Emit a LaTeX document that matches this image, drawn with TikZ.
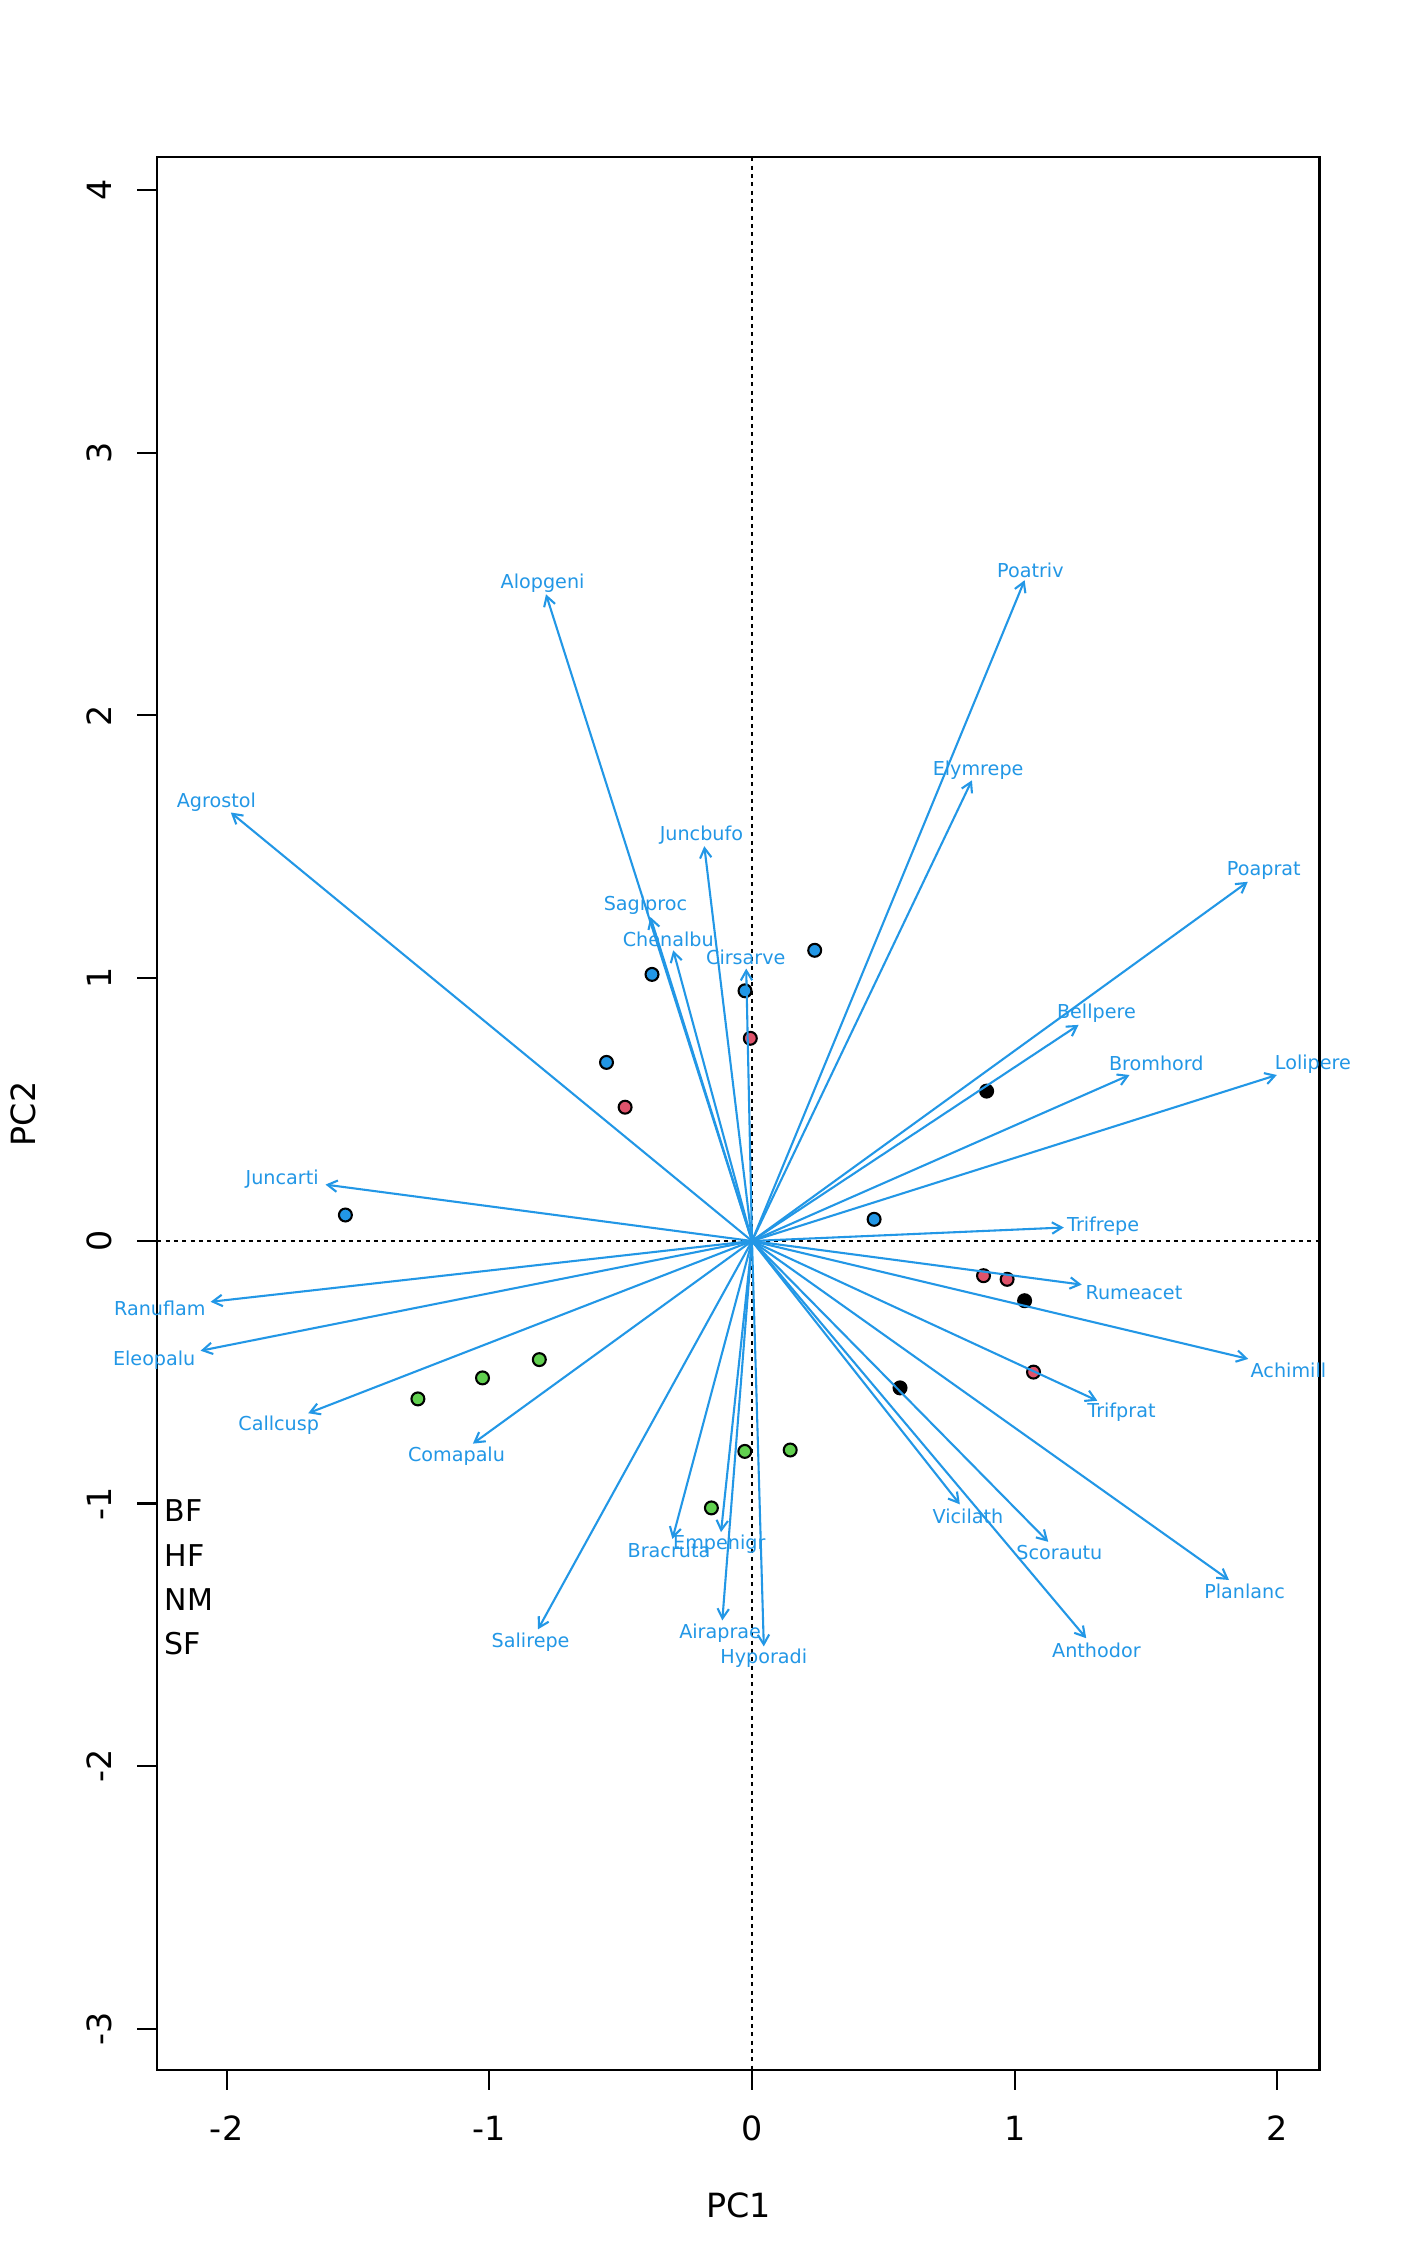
\documentclass[tikz,border=0pt]{standalone}
\usepackage{fontspec}
\setmainfont{DejaVu Sans}
\usetikzlibrary{arrows.meta}
\definecolor{rblue}{HTML}{2297E6}
\definecolor{rred}{HTML}{DF536B}
\definecolor{rgreen}{HTML}{61D04F}
\begin{document}
\begin{tikzpicture}[x=0.36pt,y=-0.36pt,
  spl/.style={font=\fontsize{6.9}{8}\selectfont, text=rblue, inner sep=0pt, text height=5.03pt, text depth=0pt, anchor=center},
  axlab/.style={font=\fontsize{12}{14}\selectfont, inner sep=0pt, text height=8.75pt, text depth=0pt, anchor=center},
  leg/.style={font=\fontsize{10.8}{13}\selectfont, inner sep=0pt, text height=7.87pt, text depth=0pt, anchor=west},
  vec/.style={draw=rblue, line width=0.75pt, -{Straight Barb[length=3.5pt,width=4.1pt]}},
  site/.style={circle, draw=black, line width=0.75pt, inner sep=0pt, minimum size=4.65pt},
  refline/.style={line width=0.75pt, dash pattern=on 1.45pt off 1.55pt},
  frame/.style={line width=0.75pt, draw=black}
]
\fill[white] (0,0) rectangle (1400,2266);
\useasboundingbox (0,0) rectangle (1400,2266);

% reference lines
\coordinate (vt) at (752,157.3);
\coordinate (vb) at (752,2070.3);
\coordinate (hl) at (157.3,1241);
\coordinate (hr) at (1319.5,1241);
\draw[refline] (vt) -- (vb);
\draw[refline] (hl) -- (hr);

% frame
\coordinate (bl) at (157.3,2070.3);
\coordinate (tr) at (1319.5,157.3);
\draw[frame] (bl) rectangle (tr);

% x ticks
\foreach \xx/\lab [count=\k] in {226.6/-2,489.3/-1,752/0,1014.7/1,1277.4/2}{
  \coordinate (xt\k a) at (\xx,2070.3);
  \coordinate (xt\k b) at (\xx,2090.3);
  \draw[frame] (xt\k a) -- (xt\k b);
  \node[axlab] (xl\k) at (\xx,2128.7) {\lab};
}
% y ticks
\foreach \yy/\lab [count=\k] in {2029/-3,1766.2/-2,1503.5/-1,1240.8/0,978.1/1,715.4/2,452.7/3,190/4}{
  \coordinate (yt\k a) at (157.3,\yy);
  \coordinate (yt\k b) at (137.3,\yy);
  \draw[frame] (yt\k a) -- (yt\k b);
  \node[axlab, rotate=90] (yl\k) at (99,\yy) {\lab};
}
\node[axlab] (pc1) at (738.6,2205) {PC1};
\node[axlab, rotate=90] (pc2) at (23.3,1114) {PC2};

% legend
\node[leg] (lg1) at (164.2,1510.7) {BF};
\node[leg] (lg2) at (164.2,1555.7) {HF};
\node[leg] (lg3) at (164.2,1599.8) {NM};
\node[leg] (lg4) at (164.2,1643.9) {SF};

% sites
\node[site, fill=rblue] (b1) at (652,974.4) {};
\node[site, fill=rblue] (b2) at (745,990.8) {};
\node[site, fill=rblue] (b3) at (606.5,1062.4) {};
\node[site, fill=rblue] (b4) at (814.7,950.3) {};
\node[site, fill=rblue] (b5) at (345.4,1215) {};
\node[site, fill=rblue] (b6) at (874.1,1219.3) {};
\node[site, fill=rred] (r1) at (750.3,1038.3) {};
\node[site, fill=rred] (r2) at (625.1,1107.2) {};
\node[site, fill=rred] (r3) at (983.5,1275.7) {};
\node[site, fill=rred] (r4) at (1007.1,1279.3) {};
\node[site, fill=rred] (r5) at (1033.5,1372.1) {};
\node[site, fill=black] (k1) at (986.6,1091.1) {};
\node[site, fill=black] (k2) at (1024.6,1300.7) {};
\node[site, fill=black] (k3) at (900,1387.9) {};
\node[site, fill=rgreen] (g1) at (539.3,1359.6) {};
\node[site, fill=rgreen] (g2) at (482.5,1377.9) {};
\node[site, fill=rgreen] (g3) at (417.9,1398.9) {};
\node[site, fill=rgreen] (g4) at (744.8,1451.4) {};
\node[site, fill=rgreen] (g5) at (711.4,1507.9) {};
\node[site, fill=rgreen] (g6) at (790.2,1450) {};

% species vectors
\coordinate (O) at (752,1241);
\foreach \nm/\tx/\ty/\lx/\ly in {
  Alopgeni/546/594.3/542.6/581.3,
  Agrostol/230.8/812.5/216.3/801,
  Juncbufo/704.3/846.2/701.4/833.9,
  Sagiproc/650.4/917/645.4/903.6,
  Chenalbu/673.2/950.3/668.2/939.9,
  Cirsarve/746.2/968.6/745.8/957.9,
  Poatriv/1024.6/580.2/1030.4/570.6,
  Elymrepe/971.9/780.3/978.1/768.9,
  Poaprat/1247.8/881.8/1263.8/868.4,
  Bellpere/1078.6/1024.9/1096.4/1011.5,
  Bromhord/1129.5/1075/1156.3/1063.2,
  Lolipere/1276.8/1075/1312.9/1062.4,
  Juncarti/325.5/1184.6/282.1/1177.5,
  Ranuflam/210.6/1301.8/159.8/1308.6,
  Eleopalu/200.6/1350.7/154.2/1358.6,
  Callcusp/308.2/1413.2/278.7/1423.9,
  Comapalu/472.9/1443.6/456.5/1454.3,
  Salirepe/538/1629.3/530.6/1640,
  Bracruta/672.4/1538.9/669/1550.7,
  Empenigr/721/1532.1/719.3/1542.9,
  Airaprae/722.3/1620.4/720.1/1631.1,
  Hyporadi/763.8/1646.4/763.8/1656.8,
  Trifrepe/1063.8/1227.5/1103.1/1224.6,
  Rumeacet/1081.7/1284.6/1133.9/1292.5,
  Achimill/1248.2/1358.9/1288.4/1370.4,
  Trifprat/1097.3/1400.7/1121.4/1410.4,
  Vicilath/959.8/1504.3/967.9/1516.1,
  Scorautu/1048.2/1541.8/1059.4/1552.5,
  Planlanc/1229/1580/1244.6/1591.1,
  Anthodor/1086.2/1638.2/1096.4/1650.7}{
  \coordinate (tip\nm) at (\tx,\ty);
  \draw[vec] (O) -- (tip\nm);
  \node[spl] (lab\nm) at (\lx,\ly) {\nm};
}
\end{tikzpicture}
\end{document}
